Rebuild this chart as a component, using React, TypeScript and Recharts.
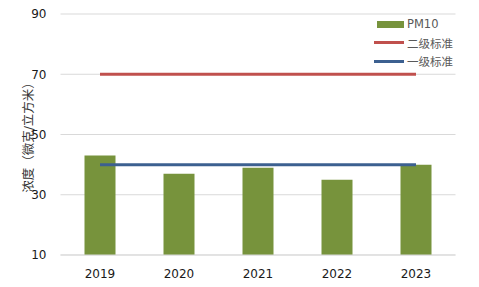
import React from 'react';
import { ComposedChart, Bar, Line, XAxis, YAxis, CartesianGrid } from 'recharts';

const years = ['2019', '2020', '2021', '2022', '2023'];
const pm10 = [43, 37, 39, 35, 40];
const level2 = [70, 70, 70, 70, 70];
const level1 = [40, 40, 40, 40, 40];
const yTicks = [10, 30, 50, 70, 90];

const data = years.map((y, i) => ({ year: y, pm10: pm10[i], level2: level2[i], level1: level1[i] }));

const FONT = '"DejaVu Sans", "Noto Sans CJK SC", sans-serif';

const legendItems = [
  { name: 'PM10', color: '#77933c', type: 'rect' },
  { name: '二级标准', color: '#c0504d', type: 'line' },
  { name: '一级标准', color: '#3c6090', type: 'line' },
];

const LegendBox = () => (
  <div
    style={{
      position: 'absolute',
      left: 371,
      top: 15,
      fontFamily: FONT,
      fontSize: 11.5,
      color: '#595959',
    }}
  >
    {legendItems.map((it) => (
      <div key={it.name} style={{ display: 'flex', alignItems: 'center', height: 18.5 }}>
        <div style={{ width: 36, display: 'flex', alignItems: 'center', justifyContent: 'center' }}>
          {it.type === 'rect' ? (
            <div style={{ width: 27, height: 7, background: it.color, marginLeft: 2 }} />
          ) : (
            <div style={{ width: 30, height: 3, background: it.color }} />
          )}
        </div>
        <span>{it.name}</span>
      </div>
    ))}
  </div>
);

export default function App() {
  return (
    <div style={{ position: 'absolute', left: 0, top: 0, width: 479, height: 287, background: '#fff' }}>
      <ComposedChart
        width={479}
        height={287}
        data={data}
        margin={{ top: 14, right: 23.5, bottom: 0, left: 0 }}
      >
        <CartesianGrid vertical={false} stroke="#d9d9d9" strokeWidth={1} />
        <XAxis
          dataKey="year"
          height={32}
          axisLine={{ stroke: '#d9d9d9' }}
          tickLine={false}
          tick={{ fontFamily: FONT, fontSize: 12, fill: '#1a1a1a' }}
          tickMargin={8}
        />
        <YAxis
          width={60.5}
          domain={[10, 90]}
          ticks={yTicks}
          axisLine={false}
          tickLine={false}
          tickMargin={8}
          tick={{ fontFamily: FONT, fontSize: 12, fill: '#1a1a1a' }}
          label={{
            value: '浓度（微克/立方米）',
            angle: -90,
            position: 'insideLeft',
            offset: 29,
            style: { fontFamily: FONT, fontSize: 12.5, fill: '#333', textAnchor: 'middle' },
          }}
        />
        <Bar dataKey="pm10" name="PM10" fill="#77933c" barSize={31} isAnimationActive={false} />
        <Line dataKey="level2" name="二级标准" stroke="#c0504d" strokeWidth={3} dot={false} isAnimationActive={false} />
        <Line dataKey="level1" name="一级标准" stroke="#3c6090" strokeWidth={3} dot={false} isAnimationActive={false} />
      </ComposedChart>
      <LegendBox />
    </div>
  );
}
